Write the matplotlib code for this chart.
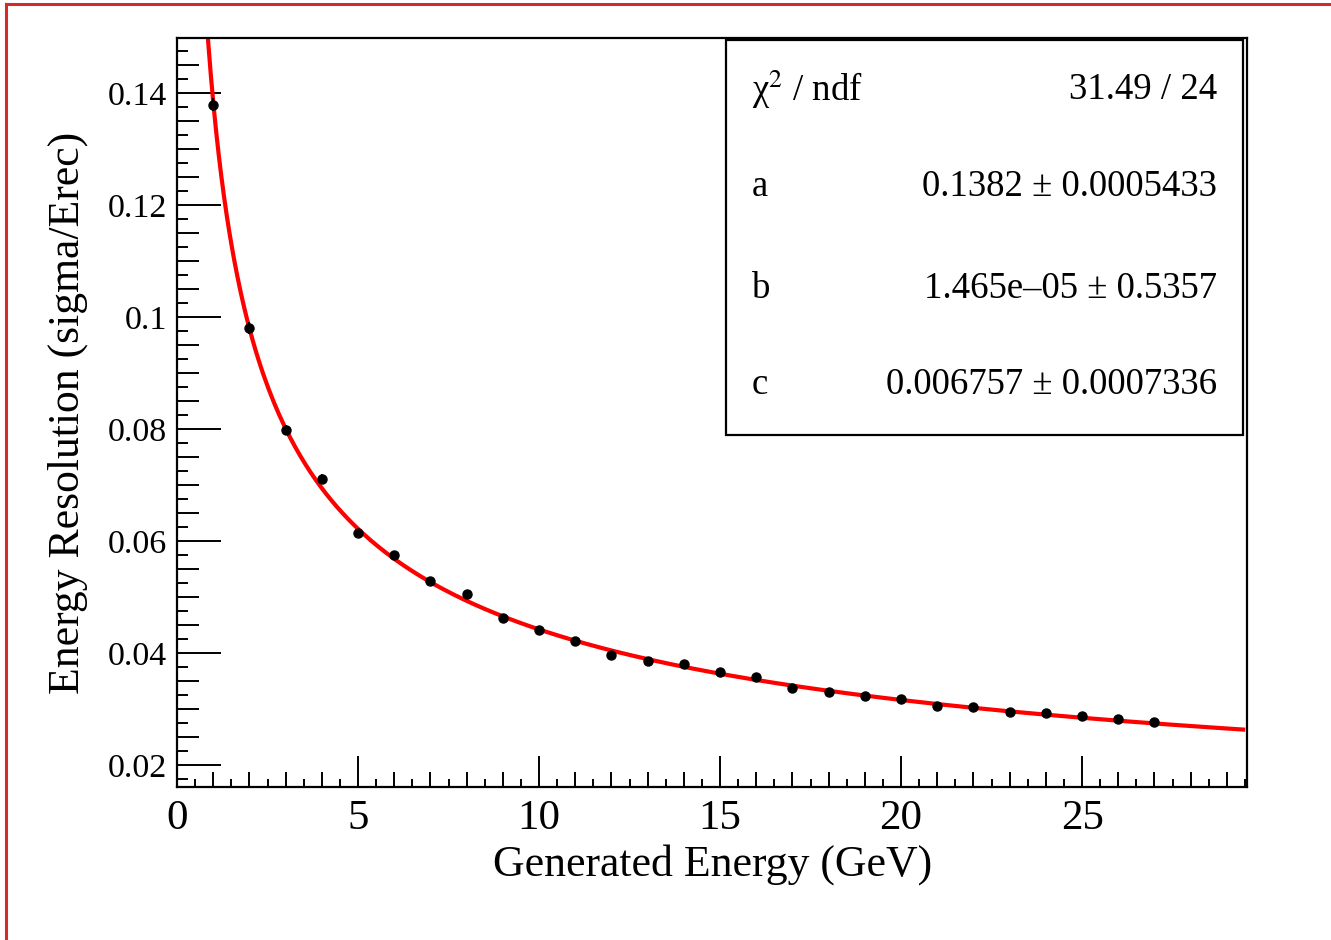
import matplotlib
matplotlib.use("Agg")
import matplotlib.pyplot as plt
import numpy as np
from matplotlib.ticker import MultipleLocator, NullFormatter
from matplotlib.patches import Rectangle
from matplotlib.lines import Line2D

plt.rcParams["font.family"] = ["Liberation Serif", "DejaVu Serif"]
plt.rcParams["mathtext.fontset"] = "stix"

# datos
energia = [1, 2, 3, 4, 5, 6, 7, 8, 9, 10, 11, 12, 13, 14,
           15, 16, 17, 18, 19, 20, 21, 22, 23, 24, 25, 26, 27]
resolucion = [0.1379, 0.0980, 0.0798, 0.0711, 0.0614, 0.0575, 0.0529, 0.0505,
              0.0463, 0.0441, 0.0421, 0.0396, 0.0386, 0.0380, 0.0366, 0.0357,
              0.0338, 0.0330, 0.0323, 0.0318, 0.0305, 0.0304, 0.0295, 0.0293,
              0.0288, 0.0283, 0.0277]
errores = [0.0012, 0.0011, 0.0009, 0.0008, 0.0007, 0.0006, 0.0006, 0.0005,
           0.0005, 0.0005, 0.0004, 0.0004, 0.0004, 0.0004, 0.0004, 0.0004,
           0.0003, 0.0003, 0.0003, 0.0003, 0.0003, 0.0003, 0.0003, 0.0003,
           0.0003, 0.0003, 0.0003]

# parametros del ajuste (caja de estadisticas)
par_a, par_b, par_c = 0.1382, 1.465e-05, 0.006757
etiquetas_stats = ["\u03c7$^{2}$ / ndf", "a", "b", "c"]
valores_stats = ["31.49 / 24", "0.1382 \u00b1 0.0005433",
                 "1.465e\u201305 \u00b1 0.5357", "0.006757 \u00b1 0.0007336"]

fig = plt.figure(figsize=(13.31, 9.40), dpi=100)
ax = fig.add_axes([0.133, 0.1628, 0.804, 0.7968])

# curva del ajuste
e_fit = np.linspace(0.5, 29.45, 400)
r_fit = np.sqrt(par_a**2 / e_fit + par_b**2 / e_fit**2 + par_c**2)
ax.plot(e_fit, r_fit, color="#ff0000", lw=3.0, zorder=2)

# puntos
ax.errorbar(energia, resolucion, yerr=errores, fmt="o", color="black",
            ms=6.5, elinewidth=1.5, capsize=0, zorder=3)

ax.set_xlim(0, 29.56)
ax.set_ylim(0.0161, 0.1498)

for s in ["top", "right", "left", "bottom"]:
    ax.spines[s].set_linewidth(1.6)

ax.xaxis.set_major_locator(MultipleLocator(5))
ax.xaxis.set_minor_locator(MultipleLocator(1))
ax.yaxis.set_major_locator(MultipleLocator(0.02))
ax.yaxis.set_minor_locator(MultipleLocator(0.005))
ax.yaxis.set_major_formatter(plt.FuncFormatter(lambda v, p: f"{v:g}"))

ax.tick_params(axis="x", which="major", direction="in", length=22, width=1.4,
               labelsize=31, pad=9)
ax.tick_params(axis="x", which="minor", direction="in", length=11, width=1.4)
ax.tick_params(axis="y", which="major", direction="in", length=32, width=1.4,
               labelsize=24.5, pad=7)
ax.tick_params(axis="y", which="minor", direction="in", length=16, width=1.4)

# tercer nivel de marcas (estilo ROOT)
secx = ax.secondary_xaxis(0)
secx.set_xticks(np.arange(0.5, 29.6, 1))
secx.xaxis.set_major_formatter(NullFormatter())
secx.tick_params(direction="in", length=6, width=1.4)
secx.spines["bottom"].set_visible(False)

secy = ax.secondary_yaxis(0)
secy.set_yticks(np.arange(0.0175, 0.15, 0.005))
secy.yaxis.set_major_formatter(NullFormatter())
secy.tick_params(direction="in", length=8, width=1.4)
secy.spines["left"].set_visible(False)

ax.set_xlabel("Generated Energy (GeV)", fontsize=31.5, labelpad=4)
ax.set_ylabel("Energy Resolution (sigma/Erec)", fontsize=31.5, labelpad=14)

# caja de estadisticas
caja = Rectangle((0.513, 0.470), 0.483, 0.527, transform=ax.transAxes,
                 facecolor="white", edgecolor="black", lw=1.6, zorder=4)
ax.add_patch(caja)
filas_y = [0.9306, 0.801, 0.665, 0.537]
for etq, val, fy in zip(etiquetas_stats, valores_stats, filas_y):
    ax.text(0.537, fy, etq, transform=ax.transAxes, fontsize=26.5,
            ha="left", va="center", zorder=5)
    ax.text(0.972, fy, val, transform=ax.transAxes, fontsize=26.5,
            ha="right", va="center", zorder=5)

# borde rojo del lienzo
fig.add_artist(Line2D([0.0045, 0.0045], [0, 0.9957], color="#d42a2a", lw=2.2,
                      transform=fig.transFigure))
fig.add_artist(Line2D([0.0045, 1], [0.9957, 0.9957], color="#d42a2a", lw=2.2,
                      transform=fig.transFigure))

fig.savefig("out.png", dpi=100)
